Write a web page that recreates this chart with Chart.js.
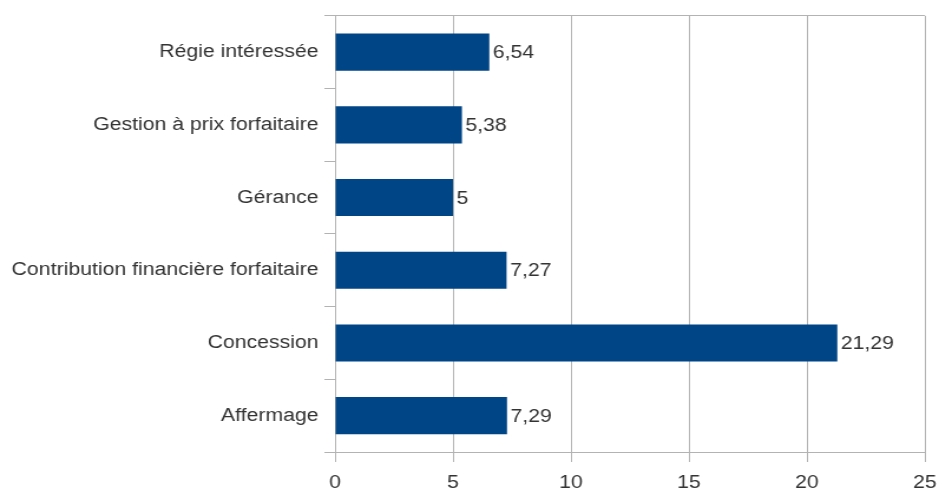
<!DOCTYPE html>
<html>
<head>
<meta charset="utf-8">
<script src="https://cdn.jsdelivr.net/npm/chart.js@4.4.1/dist/chart.umd.min.js"></script>
<style>
  html, body { margin: 0; padding: 0; background: #fff; }
</style>
</head>
<body>
<!-- the reference is a little wider than tall, so the canvas is stretched horizontally -->
<canvas id="chart" width="796" height="491" style="display:block;width:939px;height:491px;"></canvas>
<script>
const categories = [
    'Régie intéressée',
    'Gestion à prix forfaitaire',
    'Gérance',
    'Contribution financière forfaitaire',
    'Concession',
    'Affermage'
];
const values = [6.54, 5.38, 5, 7.27, 21.29, 7.29];
const xTicks = [0, 5, 10, 15, 20, 25];

const gridGray = '#b3b3b3';
const textColor = '#333333';
const fontFamily = '"Liberation Sans", Arial, sans-serif';

// draws the value next to the end of each bar, with a comma decimal
const valueLabels = {
    id: 'valueLabels',
    afterDatasetsDraw(chart) {
        const ctx = chart.ctx;
        const meta = chart.getDatasetMeta(0);
        ctx.save();
        ctx.font = '18px ' + fontFamily;
        ctx.fillStyle = textColor;
        ctx.textAlign = 'left';
        ctx.textBaseline = 'middle';
        meta.data.forEach((bar, i) => {
            const txt = String(values[i]).replace('.', ',');
            ctx.fillText(txt, bar.x + 3, bar.y + 1);
        });
        ctx.restore();
    }
};

new Chart(document.getElementById('chart'), {
    type: 'bar',
    data: {
        labels: categories,
        datasets: [{
            data: values,
            backgroundColor: '#004586',
            borderWidth: 0,
            categoryPercentage: 1,
            barPercentage: 0.51
        }]
    },
    options: {
        indexAxis: 'y',
        responsive: false,
        animation: false,
        layout: { padding: { top: 15, right: 12, left: 0, bottom: 0 } },
        plugins: {
            legend: { display: false },
            tooltip: { enabled: false }
        },
        scales: {
            x: {
                min: 0,
                max: 25,
                afterBuildTicks: axis => { axis.ticks = xTicks.map(v => ({ value: v })); },
                grid: {
                    color: gridGray,
                    tickColor: gridGray,
                    tickLength: 10
                },
                border: { color: gridGray },
                ticks: {
                    color: textColor,
                    padding: 10,
                    font: { family: fontFamily, size: 18 }
                },
                afterFit: axis => {
                    axis.height = 39;
                    axis.paddingLeft = 0;
                    axis.paddingRight = 0;
                }
            },
            y: {
                grid: {
                    offset: true,
                    color: ctx => ctx.index === 0 ? gridGray : 'rgba(0,0,0,0)',
                    tickColor: gridGray,
                    tickLength: 9
                },
                border: { color: gridGray },
                ticks: {
                    color: textColor,
                    padding: 5,
                    font: { family: fontFamily, size: 18 }
                },
                afterFit: axis => { axis.width = 284; }
            }
        }
    },
    plugins: [valueLabels]
});
</script>
</body>
</html>
